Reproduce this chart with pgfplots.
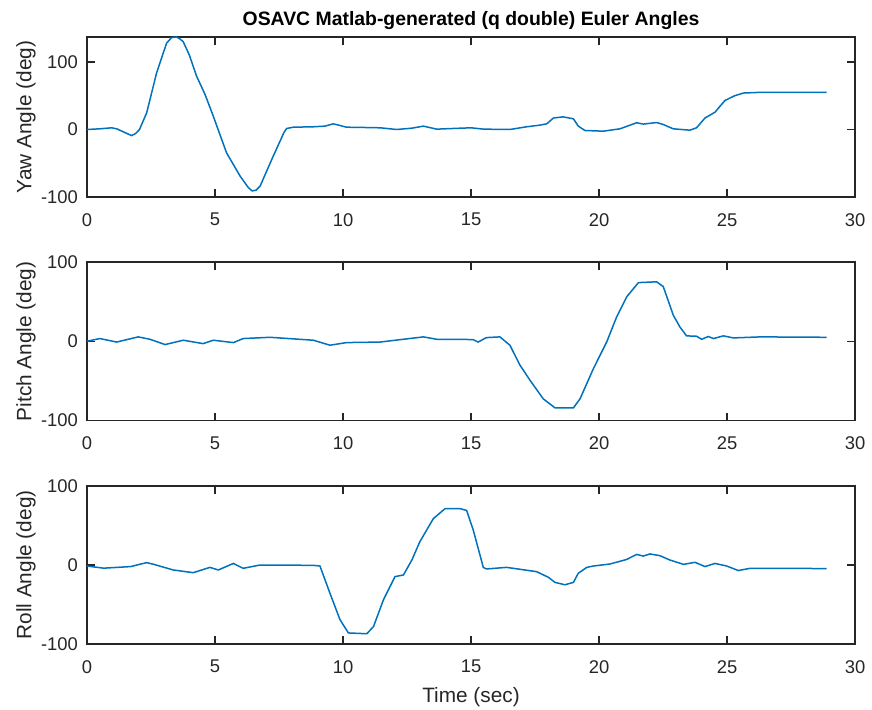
\documentclass[border=0pt]{standalone}
\usepackage{fontspec}
\setmainfont{Liberation Sans}
\usepackage{pgfplots}
\pgfplotsset{compat=1.18}
\definecolor{mblue}{RGB}{0,114,189}
\definecolor{mgray}{RGB}{38,38,38}

\pgfplotsset{
  mstyle/.style={
    scale only axis,
    width=384pt,
    xmin=0, xmax=30,
    xtick={0,5,...,30},
    axis line style={mgray, line width=0.6pt},
    tick style={mgray, line width=0.6pt},
    major tick length=3.8pt,
    tick align=inside,
    /pgf/number format/assume math mode=true,
    ticklabel style={text=mgray, font=\fontsize{9.2}{10}\selectfont},
    xticklabel style={yshift=-4.6pt},
    yticklabel style={xshift=-1pt},
    label style={text=mgray, font=\fontsize{10.4}{12}\selectfont},
    ylabel style={at={(axis description cs:-0.0794,0.5)}, anchor=center},
    every axis plot post/.append style={mblue, line width=0.75pt, mark=none},
  },
}

\begin{document}
\begin{tikzpicture}
\useasboundingbox (0,0) rectangle (436pt,354.5pt);

% yaw
\begin{axis}[mstyle,
  at={(43.5pt,256pt)}, anchor=south west, height=80pt,
  ymin=-100, ymax=137, ytick={-100,0,100},
  ylabel={Yaw Angle (deg)},
  title={OSAVC Matlab-generated (q double) Euler Angles},
  every axis title shift=0pt,
  title style={at={(axis description cs:0.5,1.1)}, anchor=center, yshift=0pt,
    text=black, font=\fontsize{9.7}{11}\selectfont\bfseries},
]
\addplot coordinates {
  (0,0) (0.5,1) (0.96,2.5) (1.16,1) (1.45,-4) (1.74,-9) (1.9,-6) (2.05,0)
  (2.33,24.6) (2.72,84) (3.11,128) (3.3,136) (3.48,137) (3.6,135)
  (3.76,130) (4.0,110) (4.28,79) (4.61,52) (4.93,20) (5.45,-34.5) (5.98,-69)
  (6.3,-86) (6.45,-91) (6.6,-90) (6.76,-84) (7.28,-39) (7.7,-4) (7.8,1.5)
  (8.06,3.4) (8.84,4) (9.3,5) (9.62,8.4) (10.14,3.4) (10.8,3)
  (11.45,2.5) (12.1,0) (12.7,2) (13.14,5) (13.66,0.5) (14.3,1.5)
  (15.0,2.5) (15.5,0.5) (16.52,0) (17.17,4) (17.7,6.5) (17.96,8.4)
  (18.22,17) (18.6,18.7) (19.0,15.8) (19.19,5) (19.45,-1.5)
  (20.17,-2.5) (20.82,1) (21.47,10) (21.73,8) (22.25,10.3) (22.51,7.4)
  (22.9,1) (23.55,-1) (23.81,2.5) (24.14,17) (24.53,25.6) (24.92,43)
  (25.3,50) (25.64,54) (26.29,55) (28.89,55)
};
\end{axis}

% pitch
\begin{axis}[mstyle,
  at={(43.5pt,144.25pt)}, anchor=south west, height=79.25pt,
  ymin=-100, ymax=100, ytick={-100,0,100},
  ylabel={Pitch Angle (deg)},
]
\addplot coordinates {
  (0,0) (0.5,3.4) (1.16,-1) (2.0,5.5) (2.46,2.5) (3.05,-4.2) (3.76,1.3)
  (4.54,-3) (4.93,1.3) (5.72,-1.7) (6.1,3.4) (7.15,5) (8.84,1.3)
  (9.49,-5) (10.14,-1.7) (11.45,-1) (13.14,5.5) (13.66,2.5) (14.57,2.5)
  (15.09,2) (15.28,-1) (15.6,4.6) (16.13,5.5) (16.52,-5) (16.91,-30)
  (17.3,-49) (17.82,-72.6) (18.28,-84) (19.0,-84) (19.26,-72.6)
  (19.78,-34.6) (20.3,-1) (20.69,30.8) (21.08,56) (21.54,74) (22.25,75)
  (22.51,69) (22.9,33) (23.16,18) (23.42,6.8) (23.81,6.3) (24.01,2.5)
  (24.27,6) (24.47,3.4) (24.86,6.8) (25.25,4.2) (26.29,5.5) (28.89,5)
};
\end{axis}

% roll
\begin{axis}[mstyle,
  at={(43.5pt,32.5pt)}, anchor=south west, height=79pt,
  ymin=-100, ymax=100, ytick={-100,0,100},
  ylabel={Roll Angle (deg)},
  xlabel={Time (sec)},
  xlabel style={at={(axis description cs:0.5,-0.335)}, anchor=center},
]
\addplot coordinates {
  (0,-1.3) (0.65,-4) (1.7,-2) (2.33,3) (2.59,1) (3.37,-6.3) (4.15,-9.7)
  (4.8,-3) (5.13,-6.3) (5.72,2) (6.1,-4.2) (6.76,0) (8.84,-0.4)
  (9.1,-1.3) (9.49,-35.7) (9.88,-69) (10.21,-86) (10.93,-87)
  (11.19,-78) (11.58,-44) (12.03,-14.7) (12.36,-12.6) (12.69,6.3)
  (13.0,29.4) (13.53,58.8) (13.99,71.4) (14.57,71.4) (14.83,69)
  (15.09,44) (15.48,-3) (15.6,-5) (16.39,-3) (17.56,-8.4) (18.02,-15.5)
  (18.28,-22) (18.67,-25) (19.0,-22) (19.19,-10.5) (19.52,-3)
  (19.78,-1.3) (20.43,1.3) (21.08,7) (21.47,13.4) (21.73,11.3)
  (21.99,14) (22.38,11.8) (22.77,6.3) (23.3,0.8) (23.75,3.4)
  (24.14,-2) (24.53,2) (24.99,-1.3) (25.44,-7) (25.9,-4.2) (27.6,-4.2)
  (28.89,-4.6)
};
\end{axis}
\end{tikzpicture}
\end{document}
